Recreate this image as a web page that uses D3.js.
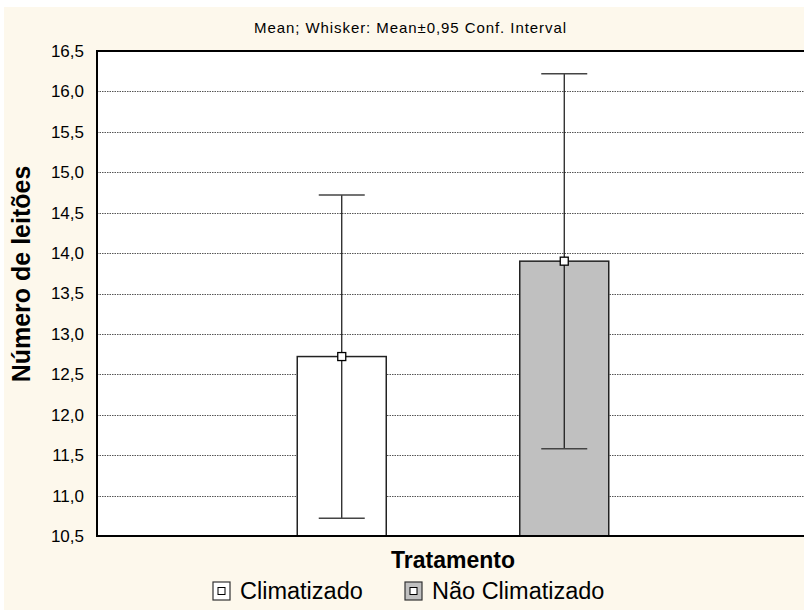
<!DOCTYPE html>
<html>
<head>
<meta charset="utf-8">
<script src="https://cdn.jsdelivr.net/npm/d3@7"></script>
<style>
  body { margin: 0; background: #fff; }
  text { font-family: "Liberation Sans", Arial, sans-serif; }
</style>
</head>
<body>
<div id="container"></div>
<script>
// dados
const categories = ["Climatizado", "Não Climatizado"];
const means = [12.72, 13.90];
const ciLow = [10.72, 11.58];
const ciHigh = [14.72, 16.22];
const barColors = ["#ffffff", "#c0c0c0"];
const yTicks = [10.5, 11.0, 11.5, 12.0, 12.5, 13.0, 13.5, 14.0, 14.5, 15.0, 15.5, 16.0, 16.5];

const width = 804, height = 610;
const plot = { left: 97, right: 809, top: 51, bottom: 536 };

const svg = d3.select('#container')
    .append('svg')
    .attr('width', width)
    .attr('height', height);

// fundo creme
svg.append('rect')
    .attr('x', 4).attr('y', 7)
    .attr('width', width - 4).attr('height', height - 7)
    .attr('fill', '#fdf8ec');

svg.append('rect')
    .attr('x', plot.left).attr('y', plot.top)
    .attr('width', plot.right - plot.left).attr('height', plot.bottom - plot.top)
    .attr('fill', '#fff');

const x = d3.scaleBand()
    .domain(categories)
    .range([plot.left, plot.right])
    .paddingInner(0.6)
    .paddingOuter(0.9);

const y = d3.scaleLinear()
    .domain([10.5, 16.5])
    .range([plot.bottom, plot.top]);

const fmt = v => d3.format('.1f')(v).replace('.', ',');

// linhas de grade
svg.append('g')
    .selectAll('line')
    .data(yTicks.slice(1, -1))
    .enter()
    .append('line')
    .attr('x1', plot.left).attr('x2', plot.right)
    .attr('y1', d => Math.round(y(d)) + 0.5)
    .attr('y2', d => Math.round(y(d)) + 0.5)
    .attr('stroke', '#555')
    .attr('stroke-width', 1)
    .attr('stroke-dasharray', '1.5,1');

// eixo y
const yAxis = svg.append('g')
    .attr('transform', `translate(${plot.left},0)`)
    .call(d3.axisLeft(y).tickValues(yTicks).tickFormat(fmt).tickSize(0).tickPadding(13));
yAxis.select('.domain').remove();
yAxis.selectAll('text')
    .attr('font-size', 17)
    .attr('fill', '#000')
    .style('font-family', '"Liberation Sans", Arial, sans-serif');

// barras
svg.append('g')
    .selectAll('rect')
    .data(categories)
    .enter()
    .append('rect')
    .attr('x', d => x(d))
    .attr('y', (d, i) => y(means[i]))
    .attr('width', x.bandwidth())
    .attr('height', (d, i) => y(10.5) - y(means[i]))
    .attr('fill', (d, i) => barColors[i])
    .attr('stroke', '#222')
    .attr('stroke-width', 1.5);

// whiskers
const cx = d => x(d) + x.bandwidth() / 2;
const whiskers = svg.append('g')
    .selectAll('g')
    .data(categories)
    .enter()
    .append('g');

whiskers.append('line')
    .attr('x1', cx).attr('x2', cx)
    .attr('y1', (d, i) => y(ciLow[i]))
    .attr('y2', (d, i) => y(ciHigh[i]))
    .attr('stroke', '#111')
    .attr('stroke-width', 1.2);

[ciLow, ciHigh].forEach(arr => {
    whiskers.append('line')
        .attr('x1', d => cx(d) - 23).attr('x2', d => cx(d) + 23)
        .attr('y1', (d, i) => y(arr[i]))
        .attr('y2', (d, i) => y(arr[i]))
        .attr('stroke', '#444')
        .attr('stroke-width', 1.5);
});

whiskers.append('rect')
    .attr('x', d => cx(d) - 4)
    .attr('y', (d, i) => y(means[i]) - 4)
    .attr('width', 8).attr('height', 8)
    .attr('fill', '#fff')
    .attr('stroke', '#000')
    .attr('stroke-width', 1.3);

// moldura
svg.append('path')
    .attr('d', `M${plot.right},${plot.top}H${plot.left}V${plot.bottom}H${plot.right}`)
    .attr('fill', 'none')
    .attr('stroke', '#000')
    .attr('stroke-width', 2);

// textos
svg.append('text')
    .attr('x', 410).attr('y', 33)
    .attr('text-anchor', 'middle')
    .attr('font-size', 15)
    .attr('textLength', 312)
    .attr('lengthAdjust', 'spacing')
    .text('Mean; Whisker: Mean±0,95 Conf. Interval');

svg.append('text')
    .attr('transform', 'translate(30,274) rotate(-90)')
    .attr('text-anchor', 'middle')
    .attr('font-size', 25)
    .attr('font-weight', 'bold')
    .text('Número de leitões');

svg.append('text')
    .attr('x', 453).attr('y', 568)
    .attr('text-anchor', 'middle')
    .attr('font-size', 23)
    .attr('font-weight', 'bold')
    .text('Tratamento');

// legenda
const legendX = [213, 405];
const legend = svg.append('g')
    .selectAll('g')
    .data(categories)
    .enter()
    .append('g')
    .attr('transform', (d, i) => `translate(${legendX[i]},582)`);

legend.append('rect')
    .attr('width', 17).attr('height', 18)
    .attr('fill', (d, i) => barColors[i])
    .attr('stroke', '#333')
    .attr('stroke-width', 1.2);

legend.append('rect')
    .attr('x', 5).attr('y', 5.5)
    .attr('width', 7).attr('height', 7)
    .attr('fill', '#fff')
    .attr('stroke', '#000')
    .attr('stroke-width', 1);

legend.append('text')
    .attr('x', 27).attr('y', 16.5)
    .attr('font-size', 23.5)
    .text(d => d);
</script>
</body>
</html>
